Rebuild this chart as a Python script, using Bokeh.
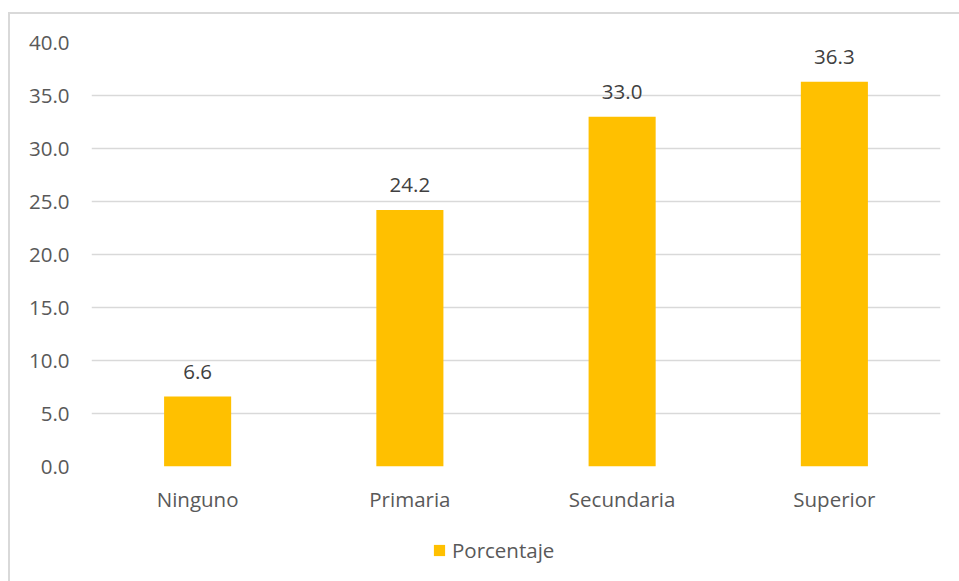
from bokeh.plotting import figure
from bokeh.layouts import column
from bokeh.models import (ColumnDataSource, LabelSet, Legend, LegendItem,
                          Range1d, NumeralTickFormatter, FixedTicker)
from bokeh.core.properties import value
from bokeh.embed import file_html
from bokeh.resources import INLINE

# Nivel educativo y porcentaje
categories = ["Ninguno", "Primaria", "Secundaria", "Superior"]
porcentaje = [6.6, 24.2, 33.0, 36.3]
y_ticks = [0, 5, 10, 15, 20, 25, 30, 35, 40]
series_name = "Porcentaje"

FONT = "Open Sans"
FONT_SIZE = "20.5px"
AXIS_COLOR = "#595959"
LABEL_COLOR = "#404040"
GRID_COLOR = "#d9d9d9"
BAR_COLOR = "#FFC000"
BAR_WIDTH = 0.316

source = ColumnDataSource(dict(
    cat=categories,
    val=porcentaje,
    txt=[f"{v:.1f}" for v in porcentaje],
))

# ---- main bar chart ----
p = figure(
    x_range=categories,
    y_range=Range1d(0, 40),
    width=949, height=508,
    output_backend="svg",
    toolbar_location=None,
    min_border_left=81, min_border_right=19,
    min_border_top=28, min_border_bottom=56,
)
p.outline_line_color = None
p.background_fill_color = "white"
p.border_fill_color = "white"

bars = p.vbar(x="cat", top="val", width=BAR_WIDTH, source=source,
              fill_color=BAR_COLOR, line_color=None)

# value labels above the bars
labels = LabelSet(x="cat", y="val", text="txt", source=source,
                  text_align="center", text_baseline="middle", y_offset=25,
                  text_font=value(FONT), text_font_size=FONT_SIZE,
                  text_color=LABEL_COLOR)
p.add_layout(labels)

p.yaxis.ticker = FixedTicker(ticks=y_ticks)
p.yaxis.formatter = NumeralTickFormatter(format="0.0")
for ax in (p.xaxis, p.yaxis):
    ax.axis_line_color = None
    ax.major_tick_line_color = None
    ax.minor_tick_line_color = None
    ax.major_tick_out = 0
    ax.major_tick_in = 0
    ax.major_label_text_font = FONT
    ax.major_label_text_font_size = FONT_SIZE
    ax.major_label_text_color = AXIS_COLOR
p.yaxis.major_label_standoff = 22
p.xaxis.major_label_standoff = 18

p.xgrid.grid_line_color = None
p.ygrid.grid_line_color = GRID_COLOR
p.ygrid.grid_line_width = 1.5

# ---- legend strip under the chart ----
q = figure(
    x_range=Range1d(0, 949), y_range=Range1d(0, 59),
    width=949, height=59,
    output_backend="svg",
    toolbar_location=None,
    x_axis_type=None, y_axis_type=None,
    min_border=0,
)
q.outline_line_color = None
q.grid.visible = False
# zero-height bar: only its swatch shows up in the legend
swatch = q.vbar(x=[0], top=[0], bottom=[0], width=BAR_WIDTH,
                fill_color=BAR_COLOR, line_color=None)

legend = Legend(
    items=[LegendItem(label=series_name, renderers=[swatch])],
    location=(341, 17),
    orientation="horizontal",
    glyph_width=14, glyph_height=14,
    label_standoff=6,
    label_text_font=FONT, label_text_font_size=FONT_SIZE,
    label_text_color=AXIS_COLOR,
    padding=0, margin=0,
    border_line_color=None,
    background_fill_alpha=0,
)
q.add_layout(legend)

chart = column(p, q, spacing=0, styles={
    "margin-left": "8px",
    "margin-top": "12px",
    "border-left": "2px solid #d9d9d9",
    "border-top": "2px solid #d9d9d9",
})

open("out.html", "w").write(file_html(chart, INLINE))
